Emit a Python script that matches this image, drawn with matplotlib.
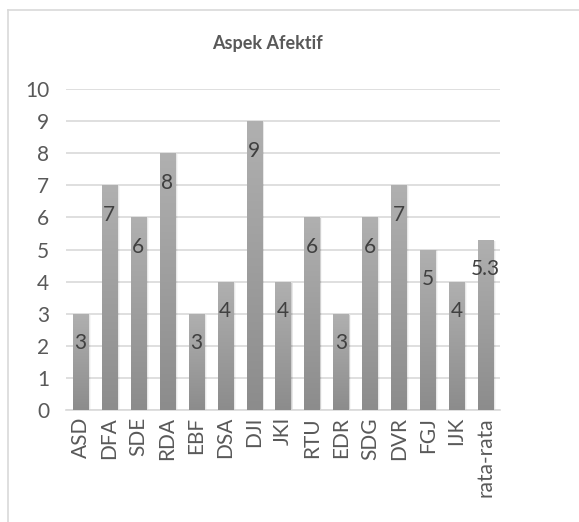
import matplotlib
matplotlib.use("Agg")
import matplotlib.pyplot as plt
import numpy as np
from matplotlib.colors import LinearSegmentedColormap
from matplotlib.patches import Rectangle
from matplotlib.lines import Line2D

categories = ["ASD", "DFA", "SDE", "RDA", "EBF", "DSA", "DJI", "JKI", "RTU",
              "EDR", "SDG", "DVR", "FGJ", "IJK", "rata-rata"]
values = [3, 7, 6, 8, 3, 4, 9, 4, 6, 3, 6, 7, 5, 4, 5.3]
labels = ["3", "7", "6", "8", "3", "4", "9", "4", "6", "3", "6", "7", "5", "4", "5.3"]
title = "Aspek Afektif"

plt.rcParams['font.family'] = ['Lato', 'DejaVu Sans']
txt = '#595959'

fig = plt.figure(figsize=(5.79, 5.22), dpi=100)
# outer chart border
fig.add_artist(Line2D([8/579, 8/579], [0, 1 - 10/522], transform=fig.transFigure,
                      color='#d9d9d9', lw=1.2))
fig.add_artist(Line2D([8/579, 1], [1 - 10/522, 1 - 10/522], transform=fig.transFigure,
                      color='#d9d9d9', lw=1.2))

ax = fig.add_axes([66/579, 112/522, 434/579, 321/522])
x = np.arange(len(categories))
ax.set_xlim(-0.5, len(categories) - 0.5)
ax.set_ylim(0, 10)
ax.set_yticks(range(0, 11))
ax.yaxis.grid(True, color='#d9d9d9', lw=1.2)
ax.set_axisbelow(True)
for s in ['left', 'right', 'top']:
    ax.spines[s].set_visible(False)
ax.spines['bottom'].set_color('#d9d9d9')
ax.spines['bottom'].set_linewidth(1.2)
ax.tick_params(axis='both', length=0, colors=txt, labelsize=15)
ax.tick_params(axis='y', pad=12)
ax.tick_params(axis='x', pad=5)
ax.set_xticks(x)
ax.set_xticklabels(categories, rotation=90, fontsize=15, color=txt)

cmap = LinearSegmentedColormap.from_list('g', ['#8c8c8c', '#b0b0b0'])
grad = np.linspace(0, 1, 256).reshape(-1, 1)
bw = 0.52
# shadows
for xi, v in zip(x, values):
    for k, a in enumerate([0.10, 0.06, 0.03]):
        ax.add_patch(Rectangle((xi - bw/2 + 0.04 + 0.03*k, 0), bw, v - 0.03,
                               facecolor='#000000', alpha=a, lw=0, zorder=2))
bars = ax.bar(x, values, width=bw, color='none', zorder=3)
for b in bars:
    x0, y0 = b.get_x(), b.get_y()
    w, h = b.get_width(), b.get_height()
    im = ax.imshow(grad, cmap=cmap, origin='lower', aspect='auto',
                   extent=[x0, x0 + w, 0, h], zorder=3)
    im.set_clip_path(b)
ax.set_xlim(-0.5, len(categories) - 0.5)
ax.set_ylim(0, 10)

for xi, v, lab in zip(x, values, labels):
    ax.text(xi, v - 0.92, lab, ha='center', va='center', fontsize=15,
            color='#404040', zorder=5)

fig.text(267/579, 1 - 44/522, title, ha='center', va='center', fontsize=13,
         fontweight='bold', color=txt)

fig.savefig('out.png', dpi=100)
